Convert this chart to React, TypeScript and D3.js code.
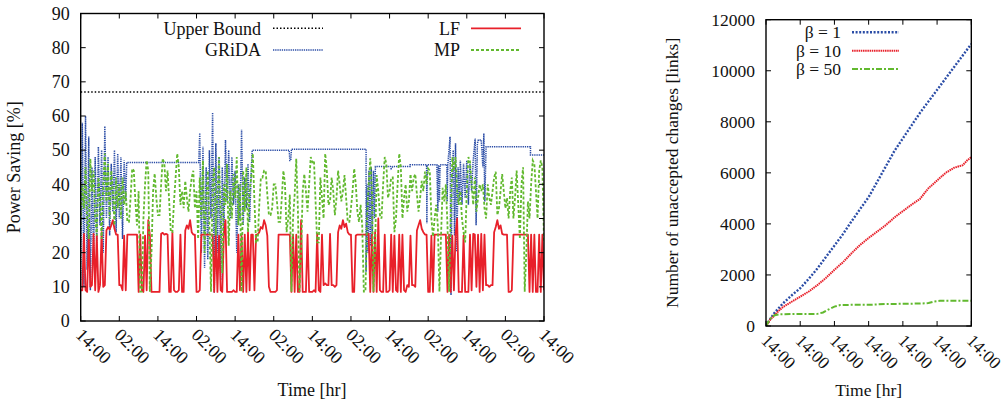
import React from "react";
import * as d3 from "d3";

// ---------- Left chart data (Power Saving [%], 0.5 h sampling from 14:00) ----------
const leftTimeLabels = ["14:00", "02:00", "14:00", "02:00", "14:00", "02:00", "14:00", "02:00", "14:00", "02:00", "14:00", "02:00", "14:00"];
const leftYTicks = [0, 10, 20, 30, 40, 50, 60, 70, 80, 90];
const upperBound = 67;

const lfValues = [
  9, 9, 25.5, 9, 8.5, 25, 10, 10.5, 25.5, 9, 25, 8.5, 10.5, 26, 10, 10.5, 26.5, 27.5, 26.8, 28, 29.5, 27, 25.3, 25.3,
  10.5, 10.5, 9, 25, 9, 25.3, 25.3, 25.3, 25.3, 25.3, 25.3, 25.3, 8.5, 25.3, 9, 8.5, 25, 9, 29.5, 25, 8.5, 8.5, 8.5, 8.5,
  8.5, 8.5, 25.5, 25.8, 25.3, 25.5, 25.3, 8.5, 8.5, 26, 9, 8.5, 8.5, 9, 25.3, 8.5, 8.5, 26.5, 28, 27, 29.5, 26, 25.3, 25.3,
  8.5, 8.5, 9, 25.3, 25.3, 25.3, 25.3, 25.3, 25.3, 25.3, 25.3, 8.5, 25.3, 8.5, 25, 9, 8.5, 25.5, 29.5, 8.5, 8.5, 8.5, 8.5, 9,
  8.5, 8.5, 25.3, 9, 25, 8.5, 25.3, 8.5, 26, 9, 25.3, 25.3, 9, 25.3, 25.3, 26, 27.5, 27, 29.5, 28, 25, 10, 8.5, 8.5,
  8.5, 8.5, 9, 25.3, 25.3, 25.3, 25.3, 25.3, 25.3, 25.3, 25.3, 8.5, 25.3, 8.5, 25.3, 8.5, 8.5, 29.5, 8.5, 8.5, 8.5, 25.3, 8.5, 8.5,
  8.5, 9, 8.5, 25.5, 9, 8.5, 25.3, 10.5, 11, 10.5, 10.5, 25.5, 10.5, 10.5, 10, 10.5, 26, 28, 27, 29.5, 27.5, 28.5, 26, 25.3,
  25.3, 8.5, 8.5, 25, 25.3, 25.3, 25.3, 25.3, 25.3, 25.3, 25.3, 25.5, 8.5, 25.3, 8.5, 26, 8.5, 30, 9, 8.5, 8.5, 25.3, 8.5, 8.5,
  9, 25.3, 8.5, 25, 9, 8.5, 25.3, 8.5, 25.3, 9, 8.5, 10.5, 10, 25, 10.5, 10.5, 10, 26.5, 28, 29.5, 27, 26, 25.3, 25.3,
  8.5, 8.5, 25, 8.5, 25.3, 25.3, 25.3, 25.3, 25.3, 25.3, 25.3, 25.3, 8.5, 25.3, 8.5, 25, 9, 25.3, 30, 8.5, 8.5, 8.5, 25, 8.5,
  8.5, 8.5, 25.3, 9, 25.5, 25.3, 10, 25.3, 8.5, 25.5, 9, 25.3, 10.5, 10.5, 10, 10.5, 10.5, 26, 27.5, 29.5, 27, 28, 25.5, 25.3,
  25.3, 25.3, 8.5, 8.5, 9, 25.3, 25.3, 25.3, 25.3, 25.3, 25.3, 25.3, 25.3, 25.3, 25.3, 8.5, 25.3, 8.5, 25.3, 8.5, 8.5, 25.3, 8.5, 25.3,
  9,
];

const mpValues = [
  28, 40, 33, 45, 30, 24, 47.5, 38, 44, 30, 25, 42, 36, 24, 40, 49, 35, 46, 30, 44, 38, 28, 42, 33,
  40, 30, 42, 34, 38, 29, 29, 36, 44.6, 44, 35, 28, 38, 8.6, 8.6, 30, 40, 47, 44, 8.6, 20, 38, 43.2, 36,
  31, 31, 40, 47.6, 46, 38, 44, 35, 26, 26, 35, 42, 49, 45, 34, 38, 33, 41, 36, 32, 38, 42, 44, 33,
  38, 24, 42, 30, 47, 20, 35, 44, 28, 8.6, 40, 45, 25, 38, 48, 30, 14, 40, 34, 46, 22, 38, 30, 43,
  36, 48, 28, 40, 8.6, 44, 32, 45, 26, 38, 42, 49, 35, 23, 23, 34, 42, 42, 44, 44, 37, 31, 31, 33,
  40, 40, 35, 29, 29, 36, 44, 40, 26, 30, 37, 8.6, 30, 37, 47.5, 33, 8.6, 20, 38, 43, 38, 32, 40, 48,
  46.5, 47, 35, 23, 23, 42, 36, 30, 49, 44, 34, 35, 42, 38, 31, 36, 44, 40, 35, 38, 42.7, 36, 29, 29,
  33, 38, 44.6, 40, 32, 29, 34, 28, 8.6, 8.6, 30, 40, 47.6, 38, 8.6, 22, 42.7, 38, 31, 30, 40, 48, 46, 36,
  38, 42, 42, 26, 30, 40, 49, 45, 30, 36, 40, 32, 35, 43, 38, 42, 43, 37, 32, 36, 41, 38, 43.7, 40,
  44.6, 44, 30, 24.7, 30, 34, 28, 8.6, 25, 39, 35, 40, 28, 8.6, 30, 48, 44, 48, 38, 34, 38, 30, 26, 23,
  38, 48, 46.6, 40, 34, 42, 32, 36, 40, 38, 40, 33, 30, 40, 36, 34, 38, 42, 43.7, 31, 33, 38, 43, 38,
  33, 36, 30, 38, 42, 30, 36, 44, 34, 24, 40, 45, 8.6, 20, 35, 30, 40, 47, 46, 38, 30, 44, 47, 45,
  23,
];

// GRiDA as [hour, value] pairs
const gridaPoints: [number, number][] = [
  [0, 12], [0.5, 58], [1, 10], [1.5, 60], [2, 15], [2.5, 54], [3, 9], [3.5, 45], [4, 18], [4.5, 48], [5, 22], [5.5, 51],
  [6, 28], [6.5, 50], [7, 20], [7.5, 57], [8, 30], [8.5, 48], [9, 25], [9.5, 46], [10, 32], [10.5, 50], [11, 26], [11.5, 49],
  [12, 30], [12.5, 48], [13, 24], [13.5, 47], [14, 35], [14.3, 46.4], [36.7, 46.4],
  [37, 55], [37.5, 20], [38, 51], [38.5, 15.6], [39, 45], [39.5, 18], [40, 50], [40.5, 30], [41, 61], [41.5, 8.3],
  [42, 52], [42.5, 20], [43, 48], [43.5, 12], [44, 45], [44.5, 25], [45, 53], [45.5, 35], [46, 50], [46.5, 30],
  [47, 48], [47.5, 34], [48, 44], [48.5, 20], [49, 40], [49.5, 30], [50, 56], [50.5, 28], [51, 42], [51.5, 33],
  [52, 46], [52.5, 29], [53, 44], [53.3, 50], [64.8, 50], [65, 47], [65.3, 47], [65.5, 50.3], [88.7, 50.3],
  [88.7, 14.4], [89, 40], [89.3, 20], [89.6, 44], [90, 22], [90.3, 45], [90.6, 25], [91, 44], [91.3, 30], [91.6, 45.2],
  [96.3, 45.2], [96.5, 44.6], [97, 45.2], [102.4, 45.2], [102.4, 45.7], [107.5, 45.7], [107.6, 28.6], [107.7, 45.7],
  [110.7, 45.7], [111, 32], [111.2, 45.7], [111.5, 35], [111.7, 45.7], [113.8, 45.7], [113.9, 35], [114.1, 45.7],
  [114.8, 53.9], [115.1, 7.6], [115.4, 40], [115.8, 50], [116.2, 25], [116.5, 52], [116.9, 20.3], [117.3, 45],
  [117.7, 35], [118, 47], [118.5, 34], [119, 46], [119.5, 36], [120, 47], [120.5, 34], [121, 46], [121.5, 38],
  [122, 47], [122.6, 53.4], [122.9, 28], [123.3, 52], [123.6, 53], [124.5, 53], [125, 45], [125.3, 54.9], [125.6, 35],
  [126, 51], [139.8, 51], [139.8, 48.6], [144, 48.6],
];

// ---------- Right chart data (Number of unaccepted changes) ----------
const rightXTickHours = [0, 24, 48, 72, 96, 120, 144];
const rightTimeLabels = ["14:00", "14:00", "14:00", "14:00", "14:00", "14:00", "14:00"];
const rightYTicks = [0, 2000, 4000, 6000, 8000, 10000, 12000];

const beta1: [number, number][] = [
  [0, 0], [3, 280], [6, 520], [12, 890], [18, 1200], [24, 1480], [30, 1850], [36, 2250], [42, 2700], [48, 3150],
  [54, 3600], [60, 4100], [66, 4580], [72, 5050], [78, 5650], [84, 6250], [90, 6850], [96, 7350], [102, 7850],
  [108, 8350], [114, 8800], [120, 9250], [126, 9700], [132, 10150], [138, 10600], [144, 11050],
];
const beta10: [number, number][] = [
  [0, 0], [3, 250], [6, 420], [9.4, 620], [12, 750], [18, 950], [24, 1150], [30, 1350], [36, 1600], [42, 1880],
  [48, 2200], [54, 2500], [60, 2850], [66, 3176], [72, 3450], [78, 3700], [84, 3950], [90, 4250], [96, 4500],
  [102, 4750], [108, 4980], [114, 5400], [120, 5700], [126, 6000], [132, 6200], [138, 6300], [141, 6480], [144, 6620],
];
const beta50: [number, number][] = [
  [0, 0], [2, 200], [4, 350], [6, 420], [10, 460], [20, 470], [30, 470], [36, 475], [40, 530], [44, 650], [48, 760],
  [52, 820], [60, 830], [72, 830], [84, 860], [96, 870], [108, 880], [114, 900], [118, 960], [122, 985], [144, 990],
];

const FONT = "'Liberation Serif', 'Times New Roman', serif";
const BLUE = "#2a4ca6";
const RED = "#e8202a";
const GREEN = "#62b92f";

export default function App() {
  // left chart scales
  const xL = d3.scaleLinear().domain([0, 144]).range([80.7, 544]);
  const yL = d3.scaleLinear().domain([0, 90]).range([321, 13.5]);
  // right chart scales
  const xR = d3.scaleLinear().domain([0, 144]).range([766, 971.3]);
  const yR = d3.scaleLinear().domain([0, 12000]).range([326, 19.7]);

  const lineL = d3.line<[number, number]>().x((d) => xL(d[0])).y((d) => yL(d[1]));
  const lineR = d3.line<[number, number]>().x((d) => xR(d[0])).y((d) => yR(d[1]));

  const lfData: [number, number][] = lfValues.map((v, i) => [i * 0.5, v]);
  const mpData: [number, number][] = mpValues.map((v, i) => [i * 0.5, v]);
  const ubData: [number, number][] = [[0, upperBound], [144, upperBound]];

  const leftXTicks = leftTimeLabels.map((_, i) => i * 12);
  const tick = 5;
  const fsL = 18;
  const fsR = 17.5;

  return (
    <div style={{ position: "absolute", left: 0, top: 0 }}>
      <svg width={1004} height={405} style={{ display: "block", background: "#fff" }} fontFamily={FONT}>
        <defs>
          <clipPath id="clipL">
            <rect x={xL(0)} y={yL(90)} width={xL(144) - xL(0)} height={yL(0) - yL(90)} />
          </clipPath>
          <clipPath id="clipR">
            <rect x={xR(0)} y={yR(12000)} width={xR(144) - xR(0)} height={yR(0) - yR(12000)} />
          </clipPath>
        </defs>

        {/* ================= LEFT CHART ================= */}
        <g clipPath="url(#clipL)" fill="none">
          <path d={lineL(ubData) || ""} stroke="#000" strokeWidth={1.5} strokeDasharray="1.5 2" />
          <path d={lineL(gridaPoints) || ""} stroke={BLUE} strokeWidth={1.5} strokeDasharray="1.3 0.9" />
          <path d={lineL(lfData) || ""} stroke={RED} strokeWidth={1.8} strokeLinejoin="round" />
          <path d={lineL(mpData) || ""} stroke={GREEN} strokeWidth={1.8} strokeDasharray="3 2" />
        </g>
        {/* frame */}
        <rect x={xL(0)} y={yL(90)} width={xL(144) - xL(0)} height={yL(0) - yL(90)} fill="none" stroke="#000" strokeWidth={1.4} />
        {/* y ticks */}
        {leftYTicks.map((v) => (
          <g key={"ly" + v}>
            <line x1={xL(0)} x2={xL(0) + tick} y1={yL(v)} y2={yL(v)} stroke="#000" strokeWidth={1} />
            <line x1={xL(144)} x2={xL(144) - tick} y1={yL(v)} y2={yL(v)} stroke="#000" strokeWidth={1} />
            <text x={xL(0) - 11} y={yL(v)} dy="0.35em" textAnchor="end" fontSize={fsL} fill="#111">{v}</text>
          </g>
        ))}
        {/* x ticks */}
        {leftXTicks.map((h, i) => (
          <g key={"lx" + i}>
            <line x1={xL(h)} x2={xL(h)} y1={yL(0)} y2={yL(0) - tick} stroke="#000" strokeWidth={1} />
            <line x1={xL(h)} x2={xL(h)} y1={yL(90)} y2={yL(90) + tick} stroke="#000" strokeWidth={1} />
            <text transform={`translate(${xL(h) + 3},${yL(0) + 6}) rotate(45)`} dy="0.7em" textAnchor="start" fontSize={fsL} fill="#111">
              {leftTimeLabels[i]}
            </text>
          </g>
        ))}
        <text x={312} y={396} textAnchor="middle" fontSize={fsL} fill="#111">Time [hr]</text>
        <text transform={`translate(20,${(yL(0) + yL(90)) / 2}) rotate(-90)`} textAnchor="middle" fontSize={fsL} fill="#111">
          Power Saving [%]
        </text>
        {/* legend */}
        <g fontSize={fsL} fill="#111">
          <text x={261} y={28.3} dy="0.35em" textAnchor="end">Upper Bound</text>
          <line x1={273} x2={323} y1={28.3} y2={28.3} stroke="#000" strokeWidth={1.5} strokeDasharray="1.5 2" />
          <text x={261} y={50} dy="0.35em" textAnchor="end">GRiDA</text>
          <line x1={273} x2={323} y1={50} y2={50} stroke={BLUE} strokeWidth={1.5} strokeDasharray="1.3 0.9" />
          <text x={460} y={28.3} dy="0.35em" textAnchor="end">LF</text>
          <line x1={471} x2={521} y1={28.3} y2={28.3} stroke={RED} strokeWidth={1.8} />
          <text x={460} y={50} dy="0.35em" textAnchor="end">MP</text>
          <line x1={471} x2={521} y1={50} y2={50} stroke={GREEN} strokeWidth={1.8} strokeDasharray="3 2" />
        </g>

        {/* ================= RIGHT CHART ================= */}
        <g clipPath="url(#clipR)" fill="none">
          <path d={lineR(beta1) || ""} stroke={BLUE} strokeWidth={2.4} strokeDasharray="2 1.6" />
          <path d={lineR(beta10) || ""} stroke={RED} strokeWidth={2} strokeDasharray="1.5 0.7" />
          <path d={lineR(beta50) || ""} stroke={GREEN} strokeWidth={2} strokeDasharray="6 2 2 2" />
        </g>
        <rect x={xR(0)} y={yR(12000)} width={xR(144) - xR(0)} height={yR(0) - yR(12000)} fill="none" stroke="#000" strokeWidth={1.4} />
        {rightYTicks.map((v) => (
          <g key={"ry" + v}>
            <line x1={xR(0)} x2={xR(0) + tick} y1={yR(v)} y2={yR(v)} stroke="#000" strokeWidth={1} />
            <line x1={xR(144)} x2={xR(144) - tick} y1={yR(v)} y2={yR(v)} stroke="#000" strokeWidth={1} />
            <text x={xR(0) - 11} y={yR(v)} dy="0.35em" textAnchor="end" fontSize={fsR} fill="#111">{v}</text>
          </g>
        ))}
        {rightXTickHours.map((h, i) => (
          <g key={"rx" + i}>
            <line x1={xR(h)} x2={xR(h)} y1={yR(0)} y2={yR(0) - tick} stroke="#000" strokeWidth={1} />
            <line x1={xR(h)} x2={xR(h)} y1={yR(12000)} y2={yR(12000) + tick} stroke="#000" strokeWidth={1} />
            <text transform={`translate(${xR(h) + 3},${yR(0) + 7}) rotate(45)`} dy="0.7em" textAnchor="start" fontSize={fsR} fill="#111">
              {rightTimeLabels[i]}
            </text>
          </g>
        ))}
        <text x={(xR(0) + xR(144)) / 2} y={396} textAnchor="middle" fontSize={fsR} fill="#111">Time [hr]</text>
        <text transform={`translate(678,${(yR(0) + yR(12000)) / 2}) rotate(-90)`} textAnchor="middle" fontSize={fsR} fill="#111">
          Number of unaccepted changes [links]
        </text>
        <g fontSize={fsR} fill="#111">
          <text x={841} y={32.3} dy="0.35em" textAnchor="end">β = 1</text>
          <line x1={852} x2={899} y1={32.3} y2={32.3} stroke={BLUE} strokeWidth={2.4} strokeDasharray="2 1.6" />
          <text x={841} y={50.7} dy="0.35em" textAnchor="end">β = 10</text>
          <line x1={852} x2={899} y1={50.7} y2={50.7} stroke={RED} strokeWidth={2} strokeDasharray="1.5 0.7" />
          <text x={841} y={69} dy="0.35em" textAnchor="end">β = 50</text>
          <line x1={852} x2={899} y1={69} y2={69} stroke={GREEN} strokeWidth={2} strokeDasharray="6 2 2 2" />
        </g>
      </svg>
    </div>
  );
}
